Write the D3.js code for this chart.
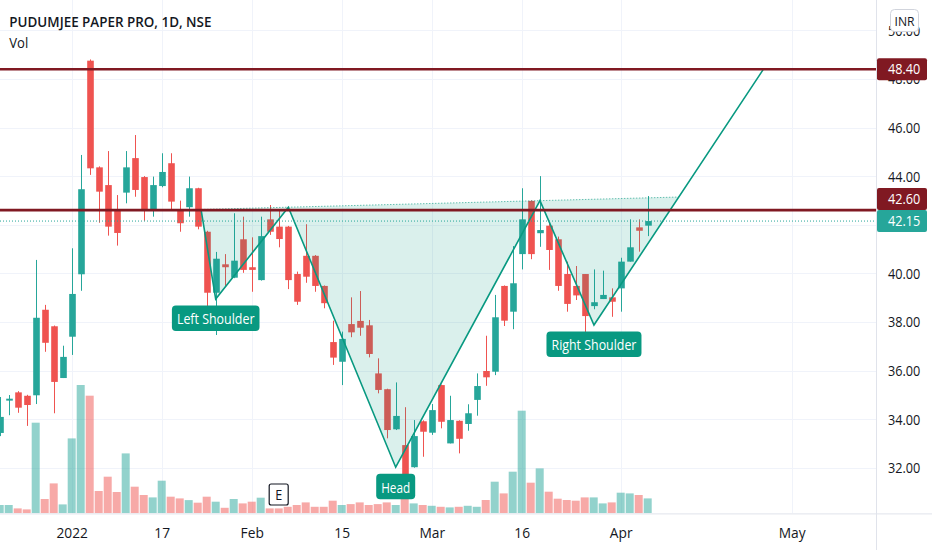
<!DOCTYPE html>
<html><head><meta charset="utf-8">
<script src="https://cdn.jsdelivr.net/npm/d3@7"></script>
<style>body{margin:0;background:#fff;overflow:hidden}svg{display:block;font-family:"Open Sans",sans-serif;}</style>
</head><body>
<svg id="c" width="932" height="550"></svg>
<script>
// ---------------- DATA ----------------
const title = "PUDUMJEE PAPER PRO, 1D, NSE";
const subTitle = "Vol";
const opens  = [33.43,34.76,35.10,34.96,34.98,38.50,37.82,35.69,37.39,39.96,48.75,44.36,43.63,42.60,43.32,44.74,43.96,42.60,43.59,44.53,42.60,42.72,43.50,41.71,39.20,40.37,39.82,41.40,40.25,39.72,42.22,41.92,41.92,39.97,40.72,40.72,39.48,37.17,36.36,37.91,38.04,37.86,35.88,35.23,33.58,32.93,32.02,33.91,33.44,35.40,33.00,33.93,33.80,34.79,35.98,35.95,39.48,38.42,40.79,42.98,41.65,41.96,41.40,39.97,39.48,39.97,38.65,38.94,39.01,39.38,40.48,41.89,41.96];
const highs  = [34.91,34.99,35.15,35.00,40.55,38.70,37.85,37.02,41.03,44.87,48.80,44.40,45.03,43.22,45.03,45.69,44.00,43.98,44.94,44.94,42.99,43.98,43.52,41.75,40.88,40.79,42.47,42.33,41.48,42.33,42.81,42.60,41.95,40.07,42.02,40.75,39.50,38.05,37.60,39.01,39.27,38.08,36.50,35.25,35.51,34.49,33.96,33.95,34.62,35.42,34.96,33.95,34.61,35.88,37.43,39.11,39.50,41.12,43.50,43.00,44.00,42.06,41.51,40.48,40.30,39.97,40.16,40.11,39.38,40.64,42.22,42.22,43.18];
const lows   = [33.30,34.16,34.26,33.72,34.62,36.77,34.24,35.69,36.64,39.28,44.05,42.08,41.55,41.14,42.88,43.15,42.16,42.33,43.54,42.60,41.71,42.33,41.81,38.49,37.46,39.48,39.80,40.02,39.24,39.70,41.58,41.07,39.35,38.70,39.61,39.24,38.56,36.23,35.40,37.37,37.43,36.54,35.06,33.21,33.55,31.63,32.00,32.45,33.35,33.62,33.00,32.59,33.52,34.14,35.37,35.81,37.83,37.70,40.16,40.58,41.09,40.14,39.28,38.42,38.90,37.28,38.52,38.94,38.21,38.42,40.48,40.89,41.53];
const closes = [34.09,34.84,34.47,34.58,38.17,37.14,35.53,36.56,39.15,43.46,44.32,43.36,41.92,41.66,44.36,43.43,42.60,43.63,44.17,42.95,42.06,43.50,41.92,39.20,40.60,40.25,40.52,40.14,40.14,41.53,41.71,41.41,39.72,38.83,39.86,39.48,38.77,36.53,37.30,37.57,37.76,36.68,35.20,33.55,34.13,31.70,33.30,33.48,34.37,33.89,33.96,33.19,34.24,35.36,35.72,38.19,38.05,39.59,42.22,40.79,41.78,40.96,39.48,38.74,39.09,38.24,38.81,39.11,38.83,40.48,41.07,41.75,42.15];
const volumes = [84,84,50,40,907,144,300,90,750,1284,1177,224,367,214,600,267,184,160,327,167,150,133,107,167,117,56,144,100,117,157,50,50,66,84,110,66,66,127,84,93,110,84,93,110,84,184,100,84,76,66,60,66,76,66,134,317,200,417,1027,307,450,217,147,134,127,160,160,100,110,207,200,184,150];
const timeTickIdx = [8,18,28,38,48,58,69,88];
const timeTickLabels = ["2022","17","Feb","15","Mar","16","Apr","May"];
const priceTicks = [32,34,36,38,40,42,44,46,48,50];
const priceTickLabelled = [32,34,36,38,40,44,46,48,50]; // 42.00 is hidden by the price boxes
const levelPrices = [48.40, 42.60];
const lastPrice = 42.15;
const patternIdx   = [22.37, 24.0, 32.07, 44.0, 60.03, 66.03, 84.81];
const patternPrice = [42.63, 38.94, 42.72, 32.02, 42.99, 37.87, 48.37];
const patternLabelAt = [1, 3, 5];
const patternLabelText = ["Left Shoulder", "Head", "Right Shoulder"];
const eventIdx = 31;
const eventText = "E";
const currency = "INR";

// ---------------- LAYOUT ----------------
const W = 932, H = 550, plotR = 876, plotB = 513.4;
const TXT = "#131722", UP = "#26a69a", DN = "#ef5350", PAT = "#089981", LVL = "#801922";
const svg = d3.select("#c");
const x = d3.scaleLinear().domain([0, 88]).range([-0.3, 791.7]);
const y = d3.scaleLinear().domain([40, 50]).range([273.3, 30.3]);
const yv = d3.scaleLinear().domain([0, 1300]).range([plotB, plotB - 130]);
const idx = d3.range(opens.length);
const isUp = i => closes[i] >= opens[i];

svg.append("rect").attr("width", W).attr("height", H).attr("fill", "#fff");
svg.append("defs").append("clipPath").attr("id", "clip")
  .append("rect").attr("x", 0).attr("y", 0).attr("width", plotR).attr("height", plotB);
const plot = svg.append("g").attr("clip-path", "url(#clip)");

function addText(parent, tx, ty, str, o = {}) {
  const g = parent.append("g").attr("transform", `translate(${tx},${ty})`);
  const t = g.append("text").text(str)
    .attr("font-size", o.size || 14).attr("font-weight", o.weight || 400)
    .attr("fill", o.fill || TXT).attr("text-anchor", o.anchor || "start");
  const w = t.node().getComputedTextLength();
  const k = o.w ? o.w / w : (o.k || 0.85);
  t.attr("transform", `scale(${k},1)`);
  return { g, t, width: w * k, k };
}

// grid
plot.selectAll(".hg").data(priceTicks).join("line")
  .attr("x1", 0).attr("x2", plotR).attr("y1", d => Math.round(y(d)) + 0.5).attr("y2", d => Math.round(y(d)) + 0.5)
  .attr("stroke", "#f0f3fa");
plot.selectAll(".vg").data(timeTickIdx).join("line")
  .attr("y1", 0).attr("y2", plotB).attr("x1", d => Math.round(x(d)) + 0.5).attr("x2", d => Math.round(x(d)) + 0.5)
  .attr("stroke", "#f0f3fa");

// volume
plot.selectAll(".vol").data(idx).join("rect")
  .attr("x", i => x(i) - 4).attr("width", 8)
  .attr("y", i => yv(volumes[i])).attr("height", i => plotB - yv(volumes[i]))
  .attr("fill", i => isUp(i) ? "rgba(38,166,154,0.5)" : "rgba(239,83,80,0.5)");

// candles
plot.selectAll(".wick").data(idx).join("line")
  .attr("x1", i => Math.round(x(i)) + 0.5).attr("x2", i => Math.round(x(i)) + 0.5)
  .attr("y1", i => y(highs[i])).attr("y2", i => y(lows[i]))
  .attr("stroke", i => isUp(i) ? UP : DN).attr("stroke-width", 1);
plot.selectAll(".body").data(idx).join("rect")
  .attr("x", i => Math.round(x(i)) + 0.5 - 3.3).attr("width", 6.6)
  .attr("y", i => y(Math.max(opens[i], closes[i])))
  .attr("height", i => Math.max(1.5, Math.abs(y(opens[i]) - y(closes[i]))))
  .attr("fill", i => isUp(i) ? UP : DN);

// pattern
const P = patternIdx.map((d, i) => [x(d), y(patternPrice[i])]);
const nk = (P[4][1] - P[2][1]) / (P[4][0] - P[2][0]);
const neckY = px => P[2][1] + nk * (px - P[2][0]);
const sl = (P[6][1] - P[5][1]) / (P[6][0] - P[5][0]);
const bx = (P[5][1] - sl * P[5][0] - (P[2][1] - nk * P[2][0])) / (nk - sl);
const B = [bx, neckY(bx)];
const A = [P[0][0], neckY(P[0][0])];
const tris = [[A, P[1], P[2]], [P[2], P[3], P[4]], [P[4], P[5], B]];
plot.selectAll(".tri").data(tris).join("path")
  .attr("d", d => d3.line()(d) + "Z").attr("fill", "rgba(8,153,129,0.15)");
plot.append("path").attr("d", d3.line()([A, B])).attr("fill", "none")
  .attr("stroke", PAT).attr("stroke-opacity", 0.6).attr("stroke-dasharray", "1.5,1.5").attr("stroke-width", 1);
plot.append("path").attr("d", d3.line()([A, ...P.slice(1)])).attr("fill", "none")
  .attr("stroke", PAT).attr("stroke-width", 1.6).attr("stroke-linejoin", "miter");

// current price dotted line
plot.append("line").attr("x1", 0).attr("x2", plotR).attr("y1", y(lastPrice)).attr("y2", y(lastPrice))
  .attr("stroke", UP).attr("stroke-dasharray", "1,2").attr("stroke-width", 1);

// level lines
plot.selectAll(".lvl").data(levelPrices).join("line")
  .attr("x1", 0).attr("x2", plotR).attr("y1", d => y(d)).attr("y2", d => y(d))
  .attr("stroke", LVL).attr("stroke-width", 2.6);

// pattern labels
patternLabelAt.forEach((pi, j) => {
  const [px, py] = P[pi];
  const lg = svg.append("g");
  const rect = lg.append("rect");
  const tw = { "Left Shoulder": 77.6, "Head": 29, "Right Shoulder": 85 }[patternLabelText[j]];
  const t = addText(lg, px, py + 6.5 + 18.8, patternLabelText[j], { size: 15, fill: "#fff", anchor: "middle", w: tw });
  const bw = t.width + 10;
  rect.attr("x", px - bw / 2).attr("y", py + 6.5).attr("width", bw).attr("height", 25.5)
    .attr("rx", 4).attr("fill", PAT);
});

// event marker
{
  const ex = x(eventIdx);
  svg.append("rect").attr("x", ex - 9.5).attr("y", 484).attr("width", 19).attr("height", 21)
    .attr("rx", 2).attr("fill", "#fff").attr("stroke", TXT).attr("stroke-width", 1.2);
  addText(svg, ex, 500, eventText, { size: 14, anchor: "middle", k: 0.9 });
}

// axes areas
svg.append("rect").attr("x", plotR).attr("y", 0).attr("width", W - plotR).attr("height", H).attr("fill", "#fff");
svg.append("rect").attr("x", 0).attr("y", plotB).attr("width", W).attr("height", H - plotB).attr("fill", "#fff");
svg.append("line").attr("x1", plotR + 0.5).attr("x2", plotR + 0.5).attr("y1", 0).attr("y2", H).attr("stroke", "#e0e3eb");
svg.append("line").attr("x1", 0).attr("x2", W).attr("y1", plotB + 0.5).attr("y2", plotB + 0.5).attr("stroke", "#e0e3eb");

// price axis
const fmt = d3.format(".2f");
const ya = svg.append("g").attr("transform", `translate(${plotR},0)`)
  .call(d3.axisRight(y).tickValues(priceTickLabelled).tickFormat(fmt).tickSize(0));
ya.select(".domain").remove();
const probe = svg.append("text").text("46.00").attr("font-size", 14.5);
const kP = 32.4 / probe.node().getComputedTextLength();
probe.remove();
ya.selectAll("text").attr("font-family", "Open Sans").attr("font-size", 14.5).attr("fill", TXT)
  .attr("x", 12 / kP).attr("dy", "0.35em").attr("transform", `scale(${kP},1)`);

// time axis
const xa = svg.append("g").attr("transform", `translate(0,${plotB})`)
  .call(d3.axisBottom(x).tickValues(timeTickIdx).tickFormat((d, i) => timeTickLabels[i]).tickSize(0));
xa.select(".domain").remove();
const probe2 = svg.append("text").text("2022").attr("font-size", 14.5);
const kT = 31.5 / probe2.node().getComputedTextLength();
probe2.remove();
xa.selectAll("text").attr("font-family", "Open Sans").attr("font-size", 14.5).attr("fill", TXT)
  .attr("y", 25).attr("dy", 0).attr("x", 0).attr("transform", `scale(${kT},1)`);

// price labels (boxes)
function priceBox(cy, val, fill) {
  svg.append("rect").attr("x", plotR + 1).attr("y", cy - 11).attr("width", 50).attr("height", 22)
    .attr("rx", 2).attr("fill", fill);
  addText(svg, plotR + 12, cy + 5.2, fmt(val), { size: 14.5, fill: "#fff", k: kP });
}
const yLast = y(lastPrice);
priceBox(y(levelPrices[0]), levelPrices[0], LVL);
priceBox(yLast, lastPrice, UP);
priceBox(Math.min(y(levelPrices[1]), yLast - 22), levelPrices[1], LVL);

// currency box
svg.append("rect").attr("x", 890.5).attr("y", 9.5).attr("width", 28).attr("height", 22)
  .attr("rx", 4).attr("fill", "#fff").attr("stroke", "#d1d4dc");
addText(svg, 904.5, 25.5, currency, { size: 13.5, anchor: "middle", w: 20 });

// title
addText(svg, 9.3, 26.5, title, { size: 15, weight: 600, w: 202.4 });
addText(svg, 9.3, 48.2, subTitle, { size: 15, w: 19 });
</script>
</body></html>
